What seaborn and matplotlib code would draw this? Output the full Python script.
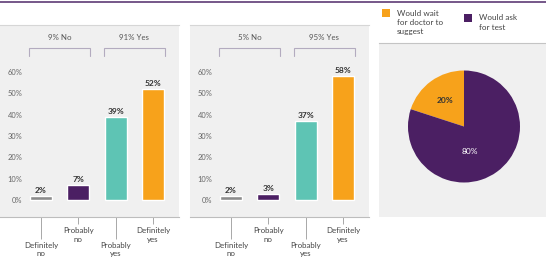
import matplotlib
matplotlib.use("Agg")
import matplotlib.pyplot as plt
import seaborn as sns
from matplotlib.patches import Patch, Rectangle
from matplotlib.lines import Line2D
from matplotlib.legend_handler import HandlerPatch

# ---- data ----
categories = ["Definitely no", "Probably no", "Probably yes", "Definitely yes"]
tick_labels = ["Definitely\nno", "Probably\nno", "Probably\nyes", "Definitely\nyes"]
values_left = [2, 7, 39, 52]
values_mid = [2, 3, 37, 58]
groups_left = ["9% No", "91% Yes"]
groups_mid = ["5% No", "95% Yes"]
y_ticks = [0, 10, 20, 30, 40, 50, 60]
y_tick_labels = ["0%", "10%", "20%", "30%", "40%", "50%", "60%"]
pie_labels = ["Would wait\nfor doctor to\nsuggest", "Would ask\nfor test"]
pie_values = [20, 80]

# ---- style ----
GRAY, PURPLE, TEAL, ORANGE = "#8c8c8c", "#4b1f63", "#5ec4b4", "#f7a21b"
bar_colors = [GRAY, PURPLE, TEAL, ORANGE]
BG = "#f0f0f0"
TXT = "#555555"
FS_TICK = 5.4
FS_CAT = 5.7
FS_VAL = 6.0
FS_LEG = 5.9

sns.set_theme(style="white")
plt.rcParams["font.family"] = ["Lato", "DejaVu Sans"]

W, H = 546, 262
fig = plt.figure(figsize=(W / 100, H / 100), dpi=100)
fig.patch.set_facecolor("white")

# top purple rule
fig.add_artist(Line2D([0, 1], [1 - 1.5 / H, 1 - 1.5 / H], transform=fig.transFigure,
                      color="#6a4a80", lw=1.3))

PX_UNIT = 37.33  # px per category
PX_PCT = 2.133   # px per percent


def bar_panel(left_px, values, groups):
    width_px, top_px, bot_px = 179, 25, 217
    ax = fig.add_axes([left_px / W, (H - bot_px) / H, width_px / W, (bot_px - top_px) / H])
    ax.set_facecolor(BG)
    sns.barplot(x=categories, y=values, hue=categories, palette=bar_colors,
                legend=False, width=0.59, saturation=1, ax=ax)
    ax.set_xlim(-41 / PX_UNIT, (width_px - 41) / PX_UNIT)
    ax.set_ylim(-(bot_px - 200) / PX_PCT, (200 - top_px) / PX_PCT)
    for c in ax.containers:
        ax.bar_label(c, fmt="%d%%", padding=1.5, fontsize=FS_VAL, fontweight="bold", color="#333333")
    ax.set_yticks(y_ticks, y_tick_labels)
    ax.tick_params(axis="y", length=0, pad=-16.3, labelsize=FS_TICK, labelcolor="#666666")
    ax.set_xticks([0, 2], [tick_labels[0], tick_labels[2]])
    ax.set_xticks([1, 3], [tick_labels[1], tick_labels[3]], minor=True)
    ax.tick_params(axis="x", which="major", length=16, width=0.6, color="#9a9a9a",
                   pad=2.0, labelsize=FS_CAT, labelcolor="#444444", bottom=True)
    ax.tick_params(axis="x", which="minor", length=5, width=0.6, color="#9a9a9a",
                   pad=2.5, labelsize=FS_CAT, labelcolor="#444444", bottom=True)
    for lab in ax.get_xticklabels(minor=False) + ax.get_xticklabels(minor=True):
        lab.set_linespacing(1.2)
    ax.set_xlabel("")
    ax.set_ylabel("")
    for s in ["left", "right"]:
        ax.spines[s].set_visible(False)
    ax.spines["top"].set_color("#d6d6d6")
    ax.spines["top"].set_linewidth(0.8)
    ax.spines["bottom"].set_color("#bdbdbd")
    ax.spines["bottom"].set_linewidth(0.8)
    for (i0, i1), g in zip([(0, 1), (2, 3)], groups):
        x0, x1 = i0 - 0.31, i1 + 0.31
        ax.plot([x0, x0, x1, x1], [67.6, 71.4, 71.4, 67.6], color="#b3abbf", lw=0.8,
                solid_joinstyle="miter")
        ax.text((i0 + i1) / 2, 76.0, g, ha="center", va="center", fontsize=FS_CAT, color=TXT)
    return ax


bar_panel(0, values_left, groups_left)
bar_panel(190, values_mid, groups_mid)

# ---- pie panel ----
pl, pt, pb, pw = 379, 43, 217, 167
ax3 = fig.add_axes([pl / W, (H - pb) / H, pw / W, (pb - pt) / H])
R = 56.0
wedges, texts, autotexts = ax3.pie(
    pie_values, colors=[ORANGE, PURPLE], startangle=90, counterclock=True,
    autopct=lambda p: f"{p:.0f}%", pctdistance=0.57,
    wedgeprops=dict(linewidth=0),
    textprops=dict(fontsize=FS_VAL),
)
autotexts[0].set_color("#333333")
autotexts[0].set_fontweight("bold")
autotexts[1].set_color("white")
autotexts[1].set_position((0.11, -0.44))
ax3.set_aspect("auto")
cx, cy = 464 - pl, 126.5 - pt
ax3.set_xlim(-cx / R, (pw - cx) / R)
ax3.set_ylim(-(pb - pt - cy) / R, cy / R)
ax3.set_frame_on(True)
ax3.set_facecolor(BG)
for s in ["left", "right", "bottom"]:
    ax3.spines[s].set_visible(False)
ax3.spines["top"].set_color("#c4c4c4")
ax3.spines["top"].set_linewidth(0.8)
ax3.set_xticks([])
ax3.set_yticks([])

# legend: square aligned with the first text line
LEG_LINESPACING = 1.4
LINE_STEP = 6.8  # points between legend text lines


class TopSquare(HandlerPatch):
    def create_artists(self, legend, orig_handle, xdescent, ydescent, width, height,
                       fontsize, trans):
        shift = (orig_handle.nlines - 1) * LINE_STEP / 2
        p = Rectangle((-xdescent, -ydescent + shift), width, height,
                      facecolor=orig_handle.get_facecolor(), edgecolor="none", transform=trans)
        return [p]


handles = []
for col, lab in zip([ORANGE, PURPLE], pie_labels):
    h = Patch(facecolor=col, edgecolor="none")
    h.nlines = lab.count("\n") + 1
    handles.append(h)

leg = fig.legend(handles, pie_labels, loc="upper left", bbox_to_anchor=(382 / W, 1 - 9.5 / H),
                 ncol=2, frameon=False, fontsize=FS_LEG, handlelength=0.98, handleheight=1.1,
                 handletextpad=0.85, columnspacing=2.5, borderpad=0, borderaxespad=0,
                 labelcolor="#444444", handler_map={Patch: TopSquare()})
for t in leg.get_texts():
    t.set_linespacing(LEG_LINESPACING)

fig.savefig("out.png", dpi=100, facecolor="white")
